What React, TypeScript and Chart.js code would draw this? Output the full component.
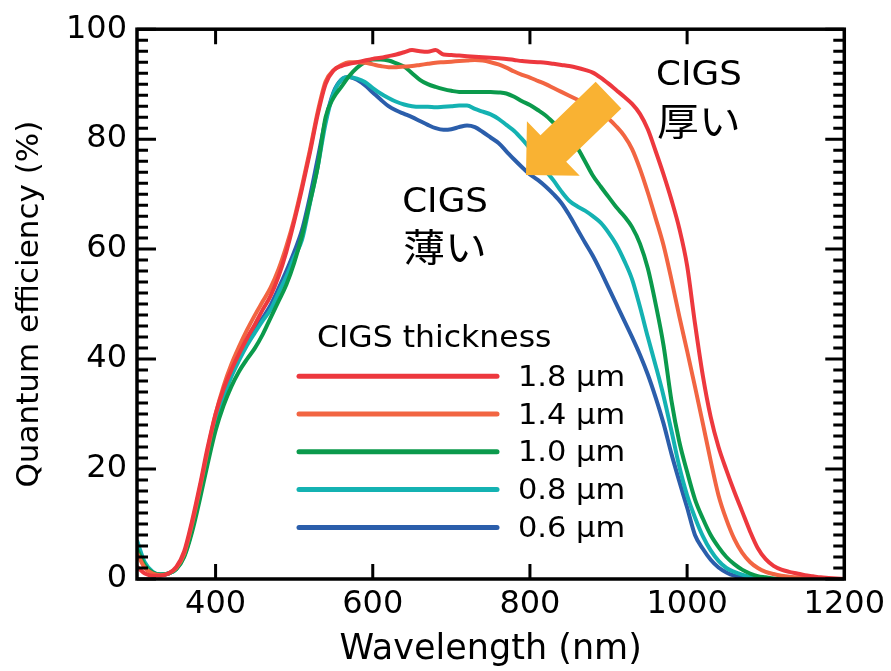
import React, { useEffect, useRef } from "react";
import { Chart, registerables } from "chart.js";

Chart.register(...registerables);

// ---------- DATA ----------
const wavelengths = [
  300, 310, 320, 330, 340, 350, 360, 370, 380, 390,
  400, 410, 420, 430, 440, 450, 460, 470, 480, 490,
  500, 510, 520, 530, 540, 550, 560, 570, 580, 590,
  600, 610, 620, 630, 640, 650, 660, 670, 680, 690,
  700, 710, 720, 730, 740, 750, 760, 770, 780, 790,
  800, 810, 820, 830, 840, 850, 860, 870, 880, 890,
  900, 910, 920, 930, 940, 950, 960, 970, 980, 990,
  1000, 1010, 1020, 1030, 1040, 1050, 1060, 1070, 1080, 1090,
  1100, 1110, 1120, 1130, 1140, 1150, 1160, 1170, 1180, 1190,
  1200,
];

const qe18 = [
  2.2, 1.0, 0.6, 0.6, 1.0, 2.2, 5.0, 10.5, 17.0, 24.0,
  30.0, 34.5, 38.0, 41.0, 43.8, 46.3, 49.0, 51.5, 55.0, 59.5,
  65.0, 71.0, 77.5, 84.5, 90.0, 92.5, 93.3, 93.7, 94.0, 94.3,
  94.6, 94.8, 95.1, 95.4, 95.8, 96.2, 96.0, 95.9, 96.2, 95.4,
  95.3, 95.2, 95.1, 95.0, 94.9, 94.8, 94.7, 94.6, 94.4, 94.2,
  94.1, 94.0, 93.9, 93.7, 93.5, 93.3, 93.0, 92.6, 92.1, 91.2,
  90.1, 88.9, 87.7, 86.4, 84.6, 81.8, 77.8, 73.6, 69.0, 63.8,
  57.0, 46.5, 37.0, 29.5, 24.0, 19.8, 15.9, 12.3, 8.7, 5.6,
  3.6, 2.4, 1.7, 1.3, 1.0, 0.7, 0.5, 0.3, 0.2, 0.1,
  0.0,
];

const qe14 = [
  4.7, 2.0, 1.0, 0.7, 1.0, 2.0, 4.6, 10.0, 16.5, 23.5,
  30.0, 35.0, 39.0, 42.3, 45.3, 48.0, 50.5, 53.0, 56.3, 60.5,
  65.5, 71.5, 78.0, 85.0, 90.5, 92.5, 93.5, 94.0, 94.0, 93.9,
  93.6, 93.3, 93.1, 93.1, 93.2, 93.3, 93.5, 93.7, 93.9, 94.0,
  94.1, 94.2, 94.3, 94.4, 94.3, 94.0, 93.6, 93.0, 92.3, 91.7,
  91.2, 90.6, 90.0, 89.3, 88.6, 87.9, 87.2, 86.5, 85.7, 84.8,
  83.7, 82.3, 80.6, 78.2, 74.6, 70.3, 65.6, 60.7, 54.5, 47.8,
  41.5, 35.0, 28.3, 21.5, 15.2, 10.8, 7.3, 4.8, 3.1, 2.0,
  1.3, 0.9, 0.6, 0.4, 0.3, 0.2, 0.1, 0.1, 0.0, 0.0,
  0.0,
];

const qe10 = [
  5.5, 2.5, 1.2, 0.8, 1.0, 1.8, 4.0, 8.5, 14.5, 21.0,
  27.0, 31.5, 35.0, 37.8, 40.0, 42.0, 44.5, 47.5, 50.5, 53.5,
  57.5, 62.5, 68.5, 75.0, 84.0, 87.5, 89.5, 91.5, 93.0, 94.0,
  94.5, 94.5, 94.3, 93.8, 93.2, 92.0, 90.8, 90.0, 89.5, 89.1,
  88.8, 88.6, 88.6, 88.6, 88.6, 88.6, 88.5, 88.3, 87.7, 86.9,
  86.2, 85.3, 84.3, 83.0, 81.7, 80.3, 78.5, 76.0, 73.4, 71.4,
  69.5, 67.6, 66.0, 64.0, 61.0, 56.5, 50.0, 42.5, 32.5, 25.0,
  19.5, 14.5, 11.0, 8.0, 5.8, 4.0, 2.7, 1.7, 1.0, 0.5,
  0.3, 0.1, 0.0, 0.0, 0.0, 0.0, 0.0, 0.0, 0.0, 0.0,
  0.0,
];

const qe08 = [
  7.0, 3.0, 1.3, 0.8, 1.0, 1.8, 4.2, 9.0, 15.5, 22.5,
  28.5, 33.0, 36.8, 39.8, 42.5, 44.8, 47.0, 49.0, 52.0, 55.0,
  58.5, 61.7, 68.3, 75.0, 82.9, 88.3, 90.8, 91.3, 91.0, 90.4,
  89.3, 88.3, 87.5, 86.8, 86.3, 86.0, 85.9, 85.9, 85.8, 85.9,
  86.0, 86.1, 86.1, 85.5, 85.0, 84.5, 83.7, 82.6, 81.5, 80.0,
  78.3, 76.3, 74.3, 72.5, 70.5, 68.8, 67.8, 67.0, 66.0, 64.8,
  63.0, 60.8, 57.9, 54.5, 49.5, 44.0, 38.8, 33.3, 27.0, 20.5,
  15.2, 11.2, 7.8, 5.2, 3.3, 2.0, 1.3, 0.8, 0.4, 0.1,
  0.0, 0.0, 0.0, 0.0, 0.0, 0.0, 0.0, 0.0, 0.0, 0.0,
  0.0,
];

const qe06 = [
  5.0, 2.3, 1.1, 0.8, 1.0, 1.9, 4.3, 9.2, 15.8, 22.8,
  29.0, 33.5, 37.5, 40.5, 43.0, 45.3, 47.5, 49.8, 52.8, 56.0,
  59.5, 63.5, 69.5, 76.5, 83.5, 88.5, 90.8, 91.3, 90.8, 89.8,
  88.5, 87.2, 86.0, 85.2, 84.6, 84.0, 83.3, 82.6, 82.0, 81.7,
  81.8, 82.2, 82.5, 82.2, 81.3, 80.3, 79.3, 77.8, 76.3, 74.9,
  73.6, 72.6, 71.4, 70.0, 68.4, 66.2, 63.7, 61.2, 58.8, 56.0,
  53.0, 50.0, 47.0, 44.0, 40.8, 37.2, 33.0, 28.3, 22.8, 17.8,
  13.0, 8.0, 5.5, 3.5, 2.1, 1.2, 0.6, 0.3, 0.1, 0.0,
  0.0, 0.0, 0.0, 0.0, 0.0, 0.0, 0.0, 0.0, 0.0, 0.0,
  0.0,
];

const seriesLabels = ["1.8 μm", "1.4 μm", "1.0 μm", "0.8 μm", "0.6 μm"];
const seriesColors = ["#ED383E", "#F26542", "#0B9A4C", "#14B2B2", "#2B5EAB"];
const seriesValues = [qe18, qe14, qe10, qe08, qe06];

const xTickValues = [400, 600, 800, 1000, 1200];
const yTickValues = [0, 20, 40, 60, 80, 100];

const legendTitle = "CIGS thickness";
const xTitle = "Wavelength (nm)";
const yTitle = "Quantum efficiency (%)";

// annotations (in data coordinates)
const arrowFrom = [900, 88.0];
const arrowTo = [795, 73.5];
const thickLabel = ["CIGS", "厚い"];
const thickPos = [1015, 91.5, 82.5];
const thinLabel = ["CIGS", "薄い"];
const thinPos = [692, 68.4, 59.7];

const FONT = "'DejaVu Sans', 'Noto Sans CJK JP', sans-serif";

function drawText(ctx: CanvasRenderingContext2D, text: string, x: number, y: number, font: string, sx = 1, align: CanvasTextAlign = "center") {
  ctx.save();
  ctx.font = font;
  ctx.fillStyle = "#000";
  ctx.textAlign = align;
  ctx.textBaseline = "middle";
  ctx.translate(x, y);
  ctx.scale(sx, 1);
  ctx.fillText(text, 0, 0);
  ctx.restore();
}

const framePlugin = {
  id: "frameTicks",
  afterDatasetsDraw(chart: any) {
    const { ctx, chartArea: a, scales } = chart;
    const x = scales.x;
    const y = scales.y;
    ctx.save();
    ctx.strokeStyle = "#000";
    ctx.lineWidth = 3;
    ctx.beginPath();
    for (const v of xTickValues) {
      const px = x.getPixelForValue(v);
      if (px >= a.right - 2) continue;
      ctx.moveTo(px, a.bottom);
      ctx.lineTo(px, a.bottom - 15);
      ctx.moveTo(px, a.top);
      ctx.lineTo(px, a.top + 15);
    }
    for (let v = 0; v <= 100; v += 2) {
      const py = y.getPixelForValue(v);
      const len = v % 20 === 0 ? 19 : 11;
      ctx.moveTo(a.left, py);
      ctx.lineTo(a.left + len, py);
      ctx.moveTo(a.right, py);
      ctx.lineTo(a.right - len, py);
    }
    ctx.stroke();
    ctx.lineWidth = 3.5;
    ctx.strokeRect(a.left, a.top, a.right - a.left, a.bottom - a.top);
    ctx.restore();
  },
};

const annotationPlugin = {
  id: "annotations",
  afterDraw(chart: any) {
    const { ctx, chartArea: a, scales } = chart;
    const x = scales.x;
    const y = scales.y;

    // arrow
    const tx = x.getPixelForValue(arrowFrom[0]);
    const ty = y.getPixelForValue(arrowFrom[1]);
    const hx = x.getPixelForValue(arrowTo[0]);
    const hy = y.getPixelForValue(arrowTo[1]);
    const dx = hx - tx;
    const dy = hy - ty;
    const L = Math.hypot(dx, dy);
    const ux = dx / L;
    const uy = dy / L;
    const nx = -uy;
    const ny = ux;
    const shaftW = 18.5;
    const headW = 38;
    const headL = 38;
    const bx = hx - ux * headL;
    const by = hy - uy * headL;
    ctx.save();
    ctx.fillStyle = "#F9B233";
    ctx.beginPath();
    ctx.moveTo(tx + nx * shaftW, ty + ny * shaftW);
    ctx.lineTo(bx + nx * shaftW, by + ny * shaftW);
    ctx.lineTo(bx + nx * headW, by + ny * headW);
    ctx.lineTo(hx, hy);
    ctx.lineTo(bx - nx * headW, by - ny * headW);
    ctx.lineTo(bx - nx * shaftW, by - ny * shaftW);
    ctx.lineTo(tx - nx * shaftW, ty - ny * shaftW);
    ctx.closePath();
    ctx.fill();
    ctx.restore();

    // texts
    drawText(ctx, thickLabel[0], x.getPixelForValue(thickPos[0]), y.getPixelForValue(thickPos[1]), `34px ${FONT}`, 1.05);
    drawText(ctx, thickLabel[1], x.getPixelForValue(thickPos[0]), y.getPixelForValue(thickPos[2]), `38px ${FONT}`, 1.1);
    drawText(ctx, thinLabel[0], x.getPixelForValue(thinPos[0]), y.getPixelForValue(thinPos[1]), `34px ${FONT}`, 1.05);
    drawText(ctx, thinLabel[1], x.getPixelForValue(thinPos[0]), y.getPixelForValue(thinPos[2]), `38px ${FONT}`, 1.1);

    // legend
    const lx0 = a.left + 162;
    const lx1 = a.left + 360;
    const ltx = a.left + 381;
    drawText(ctx, legendTitle, a.left + 180, a.top + 310, `30px ${FONT}`, 1.05, "left");
    chart.data.datasets.forEach((ds: any, i: number) => {
      const ly = a.top + 347 + i * 37.8;
      ctx.save();
      ctx.strokeStyle = ds.borderColor;
      ctx.lineWidth = 5;
      ctx.lineCap = "round";
      ctx.beginPath();
      ctx.moveTo(lx0, ly);
      ctx.lineTo(lx1, ly);
      ctx.stroke();
      ctx.restore();
      drawText(ctx, ds.label, ltx, ly + 2, `29px ${FONT}`, 1.05, "left");
    });
  },
};

export default function App() {
  const canvasRef = useRef<HTMLCanvasElement | null>(null);

  useEffect(() => {
    const canvas = canvasRef.current;
    if (!canvas) return;
    const datasets = seriesValues.map((vals, i) => ({
      label: seriesLabels[i],
      data: vals.map((v, j) => ({ x: wavelengths[j], y: v })),
      borderColor: seriesColors[i],
      backgroundColor: seriesColors[i],
      borderWidth: 4,
      pointRadius: 0,
      fill: false,
      cubicInterpolationMode: "monotone" as const,
    }));

    const chart = new Chart(canvas, {
      type: "line",
      data: { datasets },
      options: {
        responsive: false,
        animation: false,
        events: [],
        layout: { padding: { top: 25, right: 44, left: 0, bottom: 0 } },
        plugins: {
          legend: { display: false },
          tooltip: { enabled: false },
        },
        scales: {
          x: {
            type: "linear",
            min: 300,
            max: 1200,
            afterBuildTicks: (s: any) => {
              s.ticks = xTickValues.map((v) => ({ value: v }));
            },
            afterFit: (s: any) => {
              s.height = 92;
            },
            grid: { display: false, drawTicks: false },
            border: { display: false },
            ticks: {
              color: "#000",
              font: { family: FONT, size: 32 },
              padding: 6,
              maxRotation: 0,
              autoSkip: false,
              callback: (v: any) => String(v),
            },
            title: {
              display: true,
              text: xTitle,
              color: "#000",
              font: { family: FONT, size: 35 },
              padding: { top: 0, bottom: 0 },
            },
          },
          y: {
            type: "linear",
            min: 0,
            max: 100,
            afterBuildTicks: (s: any) => {
              s.ticks = yTickValues.map((v) => ({ value: v }));
            },
            afterFit: (s: any) => {
              s.width = 137;
            },
            grid: { display: false, drawTicks: false },
            border: { display: false },
            ticks: {
              color: "#000",
              font: { family: FONT, size: 32 },
              padding: 10,
              callback: (v: any) => String(v),
            },
            title: {
              display: true,
              text: yTitle,
              color: "#000",
              font: { family: FONT, size: 31 },
              padding: { top: 11, bottom: 0 },
            },
          },
        },
      },
      plugins: [framePlugin, annotationPlugin],
    });

    return () => {
      chart.destroy();
    };
  }, []);

  return (
    <div style={{ position: "absolute", left: 0, top: 0, width: 891, height: 671, background: "#fff" }}>
      <canvas ref={canvasRef} width={891} height={671} style={{ display: "block", width: 891, height: 671 }} />
    </div>
  );
}
